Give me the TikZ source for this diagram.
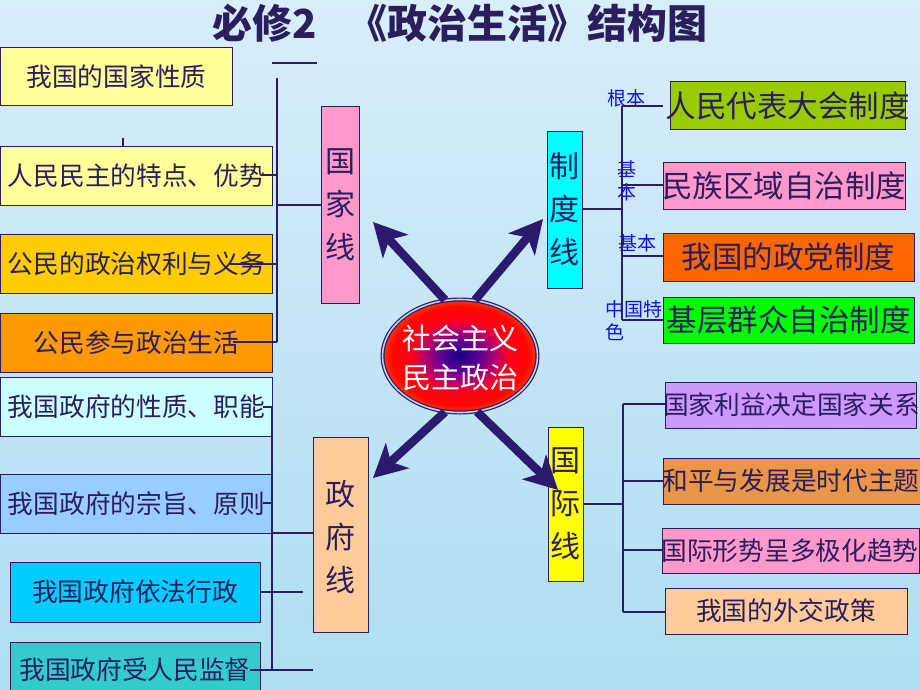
\documentclass[tikz,border=0pt]{standalone}
\usepackage{fontspec}
\setmainfont{Noto Sans CJK SC}
\usetikzlibrary{shapes.geometric,arrows.meta}
\definecolor{ink}{RGB}{42,30,92}
\definecolor{arrc}{RGB}{44,26,110}
\definecolor{lblc}{RGB}{16,16,230}
\pgfdeclareverticalshading{bgsh}{100bp}{rgb(0bp)=(0.79,0.92,0.97); rgb(25bp)=(0.68,0.87,0.95); rgb(60bp)=(0.80,0.91,0.97); rgb(100bp)=(0.93,0.97,0.99)}
\pgfdeclareradialshading{ctrsh}{\pgfpoint{0bp}{0bp}}{rgb(0bp)=(0.08,0,0.5); rgb(6bp)=(0.35,0,0.6); rgb(12bp)=(0.75,0,0.4); rgb(16bp)=(1,0,0.1); rgb(22bp)=(1,0.03,0); rgb(25bp)=(1,0.22,0.05); rgb(50bp)=(1,0.22,0.05)}
\tikzset{
  box/.style={draw=ink, line width=1pt, inner sep=0pt, anchor=center},
  txt/.style={text=ink, inner sep=0pt, font=\fontsize{25.7}{30}\selectfont},
  bigtxt/.style={text=ink, inner sep=0pt, font=\fontsize{30.5}{36}\selectfont},
  vtxt/.style={text=ink, inner sep=0pt, align=center, font=\fontsize{30}{43}\selectfont},
  lbl/.style={text=lblc, inner sep=0pt, font=\fontsize{19}{23}\selectfont},
  conn/.style={draw=ink, line width=1.2pt},
  bigarrow/.style={draw=arrc, line width=8.5pt, -{Stealth[length=33pt,width=34pt,inset=9pt]}}
}
\begin{document}
\begin{tikzpicture}[x=1pt,y=-1pt]
\useasboundingbox (0,0) rectangle (920,690);
\clip (0,0) rectangle (920,690);
\shade[shading=bgsh] (0,0) rectangle (920,690);

% title
\node[text=ink, font=\fontsize{40}{44}\selectfont\bfseries, inner sep=0pt] (tit) at (460,23) {必修2\hspace{0.75em}《政治生活》结构图};

% left boxes
\node[box, fill={rgb,255:red,255;green,255;blue,153}, minimum width=232pt, minimum height=58pt, label={[txt]center:我国的国家性质}] (l1) at (116.5,77) {};
\node[box, fill={rgb,255:red,255;green,255;blue,153}, minimum width=272pt, minimum height=59pt, label={[txt]center:人民民主的特点、优势}] (l2) at (136.5,175.5) {};
\node[box, fill={rgb,255:red,255;green,204;blue,0}, minimum width=272pt, minimum height=59pt, label={[txt]center:公民的政治权利与义务}] (l3) at (136.5,263.5) {};
\node[box, fill={rgb,255:red,255;green,153;blue,0}, minimum width=272pt, minimum height=59pt, label={[txt]center:公民参与政治生活}] (l4) at (136.5,342.5) {};
\node[box, fill={rgb,255:red,204;green,255;blue,255}, minimum width=272pt, minimum height=59pt, label={[txt]center:我国政府的性质、职能}] (l5) at (136.5,406.5) {};
\node[box, fill={rgb,255:red,153;green,204;blue,255}, minimum width=272pt, minimum height=59pt, label={[txt]center:我国政府的宗旨、原则}] (l6) at (136.5,503.5) {};
\node[box, fill={rgb,255:red,0;green,204;blue,255}, minimum width=250pt, minimum height=60pt, label={[txt]center:我国政府依法行政}] (l7) at (135,592) {};
\node[box, fill={rgb,255:red,51;green,204;blue,204}, minimum width=250pt, minimum height=60pt] (l8) at (135,672) {};
\node[txt] (l8t) at (135,670) {我国政府受人民监督};

% vertical boxes
\node[box, fill={rgb,255:red,255;green,153;blue,204}, minimum width=38pt, minimum height=196pt, label={[vtxt]center:{国\\家\\线}}] (gjx) at (340,205) {};
\node[box, fill={rgb,255:red,0;green,255;blue,255}, minimum width=35pt, minimum height=157pt, label={[vtxt]center:{制\\度\\线}}] (zdx) at (564.5,209.5) {};
\node[box, fill={rgb,255:red,255;green,204;blue,153}, minimum width=55pt, minimum height=195pt] (zfx) at (340.5,534.5) {};
\node[vtxt] (zfxt) at (340.5,537) {政\\府\\线};
\node[box, fill={rgb,255:red,255;green,255;blue,0}, minimum width=35pt, minimum height=154pt, label={[vtxt]center:{国\\际\\线}}] (gjix) at (565.5,504) {};

% right system boxes
\node[box, fill={rgb,255:red,153;green,204;blue,0}, minimum width=235pt, minimum height=47pt, label={[bigtxt]center:人民代表大会制度}] (r1) at (787.5,105.5) {};
\node[box, fill={rgb,255:red,255;green,153;blue,204}, minimum width=242pt, minimum height=47pt, label={[bigtxt]center:民族区域自治制度}] (r2) at (784,185.5) {};
\node[box, fill={rgb,255:red,255;green,102;blue,0}, minimum width=251pt, minimum height=48pt, label={[bigtxt]center:我国的政党制度}] (r3) at (788.5,257) {};
\node[box, fill={rgb,255:red,0;green,255;blue,0}, minimum width=251pt, minimum height=46pt, label={[bigtxt]center:基层群众自治制度}] (r4) at (788.5,320) {};

% right international boxes
\node[box, fill={rgb,255:red,204;green,153;blue,255}, minimum width=251pt, minimum height=46pt] (b1) at (790.5,405) {};
\node[txt] (b1t) at (791.5,405) {国家利益决定国家关系};
\node[box, fill={rgb,255:red,234;green,149;blue,72}, minimum width=262pt, minimum height=46pt] (b2) at (794,481) {};
\node[txt] (b2t) at (791,481) {和平与发展是时代主题};
\node[box, fill={rgb,255:red,255;green,153;blue,204}, minimum width=257pt, minimum height=45pt] (b3) at (790.5,550.5) {};
\node[txt] (b3t) at (790,550.5) {国际形势呈多极化趋势};
\node[box, fill={rgb,255:red,255;green,204;blue,153}, minimum width=242pt, minimum height=46pt, label={[txt]center:我国的外交政策}] (b4) at (786,611) {};

% blue labels
\node[lbl] (k1) at (626,98) {根本};
\node[lbl, align=center] (k2) at (627,181) {基\\本};
\node[lbl] (k3) at (637,243) {基本};
\node[lbl, align=left, anchor=west] (k4) at (605,321) {中国特\\色};

% connectors: national line
\coordinate (gtop) at (277,78);
\coordinate (gbot) at (277,342);
\draw[conn] (272,63) -- (317,63);
\draw[conn] (gtop) -- (gbot);
\draw[conn] (123,138) -- (123,146);
\draw[conn] (262,175) -- (277,175);
\draw[conn] (277,205) -- (gjx.west);
\draw[conn] (230,264) -- (277,264);
\draw[conn] (233,342) -- (gbot);

% government line
\coordinate (ztop) at (272,407);
\coordinate (zbot) at (272,670);
\draw[conn] (ztop) -- (zbot);
\draw[conn] (263,407) -- (ztop);
\draw[conn] (263,503) -- (272,503);
\draw[conn] (272,533) -- (zfx.west |- 0,533);
\draw[conn] (l7.east |- 0,592) -- (303,592);
\draw[conn] (250,670) -- (zfx.west |- 0,670);

% system line
\coordinate (stop) at (622,106);
\coordinate (sbot) at (622,320);
\draw[conn] (zdx.east |- 0,209) -- (622,209);
\draw[conn] (stop) -- (sbot);
\draw[conn] (stop) -- (663,106);
\draw[conn] (622,185) -- (r2.west |- 0,185);
\draw[conn] (622,256) -- (r3.west |- 0,256);
\draw[conn] (sbot) -- (r4.west |- 0,320);

% international line
\coordinate (itop) at (623,404);
\coordinate (ibot) at (623,612);
\draw[conn] (gjix.east |- 0,504) -- (623,504);
\draw[conn] (itop) -- (ibot);
\draw[conn] (itop) -- (b1.west |- 0,404);
\draw[conn] (623,481) -- (b2.west |- 0,481);
\draw[conn] (623,550) -- (b3.west |- 0,550);
\draw[conn] (ibot) -- (b4.west |- 0,612);

% center ellipse
\node[ellipse, shading=ctrsh, draw=ink, line width=1.2pt, double={rgb,255:red,200;green,200;blue,235}, double distance=1.6pt, minimum width=155pt, minimum height=113pt, inner sep=0pt] (ctr) at (460,356) {};
\node[text=white, align=center, inner sep=0pt, font=\fontsize{29}{39}\selectfont] (ctrt) at (460,358) {社会主义\\民主政治};

% arrows
\coordinate (tTL) at (373,222);
\coordinate (tTR) at (543,219);
\coordinate (tBL) at (373,478);
\coordinate (tBR) at (558,490);
\draw[bigarrow] (ctr.105) -- (tTL);
\draw[bigarrow] (ctr.75) -- (tTR);
\draw[bigarrow] (ctr.255) -- (tBL);
\draw[bigarrow] (ctr.287) -- (tBR);
\end{tikzpicture}
\end{document}
